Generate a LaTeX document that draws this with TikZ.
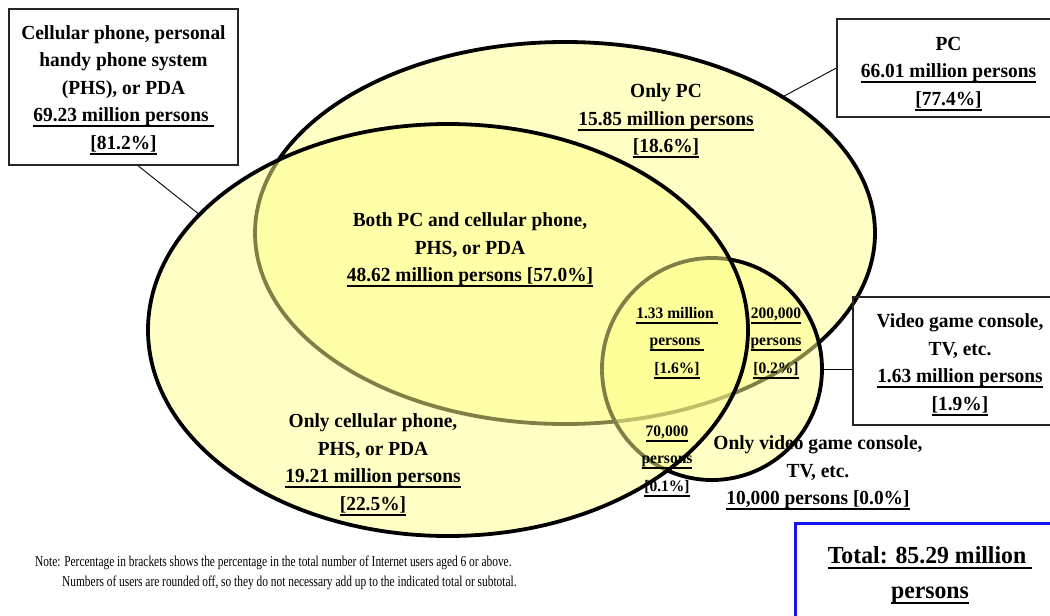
\documentclass[tikz,border=0pt]{standalone}
\usepackage{fontspec}
\setmainfont{Liberation Serif}[FakeStretch=0.97]
\newfontfamily\notefont{Liberation Serif}[FakeStretch=0.76]
\usetikzlibrary{shapes.geometric}
\definecolor{vennfill}{RGB}{255,255,140}
\definecolor{totalblue}{RGB}{20,20,245}
% underline with a thick rule a little below the baseline
\newsavebox\ulinebox
\newcommand\uln[1]{\sbox\ulinebox{#1}\leavevmode
  \rlap{\rule[-5.5pt]{\wd\ulinebox}{2pt}}\usebox\ulinebox}
% invisible strut that pushes the text of a box down a little
\newcommand\topgap[1]{\rule{0pt}{#1}}
\begin{document}
\begin{tikzpicture}[x=1pt,y=-1pt,
  venn/.style={ellipse, inner sep=0pt, draw=black, line width=3.8pt,
               fill=vennfill, fill opacity=0.5},
  lbl/.style={align=center, inner sep=0pt,
              font=\fontsize{20}{27.5}\selectfont\bfseries},
  smalllbl/.style={align=center, inner sep=0pt,
              font=\fontsize{16}{27.5}\selectfont\bfseries},
  callout/.style={draw=black!85, line width=1.4pt, inner sep=0pt, align=center,
              font=\fontsize{20}{27.5}\selectfont\bfseries},
  leader/.style={draw=black, line width=0.9pt},
  notestyle/.style={inner sep=0pt, font=\fontsize{15}{20}\notefont}]
\useasboundingbox (0,0) rectangle (1050,616);

% the three sets, drawn so that later fills tint earlier outlines
\node[venn, minimum width=620, minimum height=382] (pc) at (565,233) {};
\node[venn, minimum width=220, minimum height=222] (video) at (712,369) {};
\node[venn, minimum width=600, minimum height=412] (cell) at (448,330) {};

% call-out boxes with totals for each set
\node[callout, minimum width=229, minimum height=156] (cellbox) at (123.5,87)
  {\topgap{19.5pt}Cellular phone, personal\\handy phone system\\(PHS), or PDA\\
   \uln{69.23 million persons\ }\\\uln{[81.2\%]}};
\node[callout, minimum width=223, minimum height=98] (pcbox) at (948.5,68)
  {\topgap{25pt}PC\\\uln{66.01 million persons}\\\uln{[77.4\%]}};
\node[callout, minimum width=214, minimum height=128] (vidbox) at (960,361)
  {\topgap{21.5pt}Video game console,\\TV, etc.\\\uln{1.63 million persons}\\\uln{[1.9\%]}};
\node[draw=totalblue, line width=3pt, inner sep=0pt, align=center,
      minimum width=270, minimum height=100,
      font=\fontsize{24.5}{35}\selectfont\bfseries] (total) at (930,573)
  {\topgap{21pt}\uln{Total: 85.29 million\ }\\\uln{persons}};

% leader lines from the boxes to their sets
\draw[leader] (cellbox.south -| 138,0) -- (cell.155);
\draw[leader] (pcbox.west) -- (pc.32);
\draw[leader] (video.east) -- (video.east -| vidbox.west);

% region labels
\node[lbl] (onlypc) at (666,121)
  {Only PC\\\uln{15.85 million persons}\\\uln{[18.6\%]}};
\node[lbl] (both) at (470,250)
  {Both PC and cellular phone,\\PHS, or PDA\\\uln{48.62 million persons [57.0\%]}};
\node[lbl] (onlycell) at (373,465)
  {Only cellular phone,\\PHS, or PDA\\\uln{19.21 million persons}\\\uln{[22.5\%]}};
\node[smalllbl] (all3) at (677,343)
  {\uln{1.33 million\ }\\\uln{persons\ }\\\uln{[1.6\%]}};
\node[smalllbl] (pcvid) at (776,343)
  {\uln{200,000}\\\uln{persons}\\\uln{[0.2\%]}};
\node[smalllbl] (cellvid) at (667,461)
  {\uln{70,000}\\\uln{persons}\\\uln{[0.1\%]}};
\node[lbl] (onlyvid) at (818,473)
  {Only video game console,\\TV, etc.\\\uln{10,000 persons [0.0\%]}};

% footnote
\node[notestyle, anchor=base west] (note1) at (35,566)
  {Note: Percentage in brackets shows the percentage in the total number of Internet users aged 6 or above.};
\node[notestyle, anchor=base west] (note2) at (62,586)
  {Numbers of users are rounded off, so they do not necessary add up to the indicated total or subtotal.};
\end{tikzpicture}
\end{document}
